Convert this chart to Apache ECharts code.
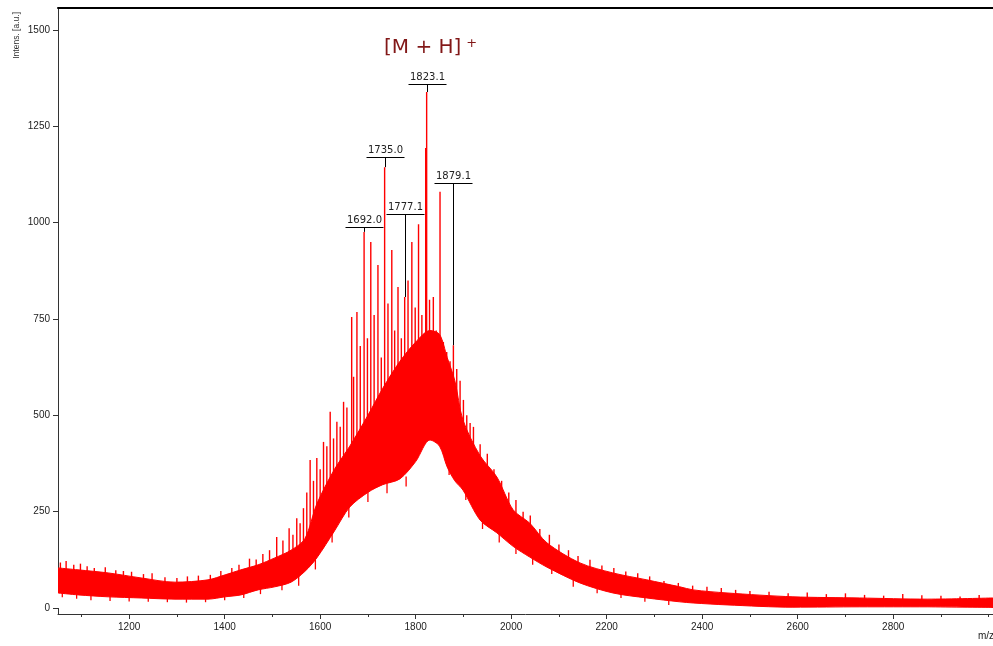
<!DOCTYPE html>
<html>
<head>
<meta charset="utf-8">
<style>
html, body { margin: 0; padding: 0; background: #fff; }
#container { width: 993px; height: 646px; }
</style>
<script src="https://cdn.jsdelivr.net/npm/echarts@6/dist/echarts.min.js"></script>
</head>
<body>
<div id="container"></div>
<script>
// noise band of the spectrum: m/z and upper / lower edge of the red band
var bandMz    = [1051, 1093, 1156, 1225, 1296, 1365, 1401, 1434, 1470, 1505, 1539, 1568, 1593, 1630, 1662, 1700, 1731, 1767, 1800, 1830, 1850, 1866, 1882, 1899, 1935, 1970, 2004, 2039, 2075, 2144, 2213, 2284, 2353, 2381, 2452, 2590, 2730, 2871, 3009];
var bandUpper = [104, 99, 91, 78, 67, 73, 86, 99, 112, 130, 150, 180, 270, 360, 420, 500, 570, 640, 690, 720, 710, 650, 590, 488, 395, 340, 255, 220, 169, 117, 91, 73, 55, 47, 39, 29, 26, 23, 26];
var bandLower = [39, 34, 29, 26, 23, 23, 29, 34, 47, 55, 67, 95, 130, 200, 262, 300, 320, 335, 380, 436, 420, 366, 330, 306, 228, 195, 160, 132, 106, 65, 39, 26, 16, 13, 8, 2, 3, 3, 2];

// individual peaks sticking out of the top of the band
var spikeMz  = [1056, 1068, 1084, 1098, 1112, 1127, 1150, 1172, 1188, 1205, 1230, 1248, 1275, 1300, 1322, 1345, 1370, 1392, 1415, 1430, 1452, 1466, 1480, 1494,
                1509, 1522, 1535, 1543, 1551, 1558, 1565, 1572, 1579, 1586, 1593, 1600, 1607, 1614, 1621, 1628, 1635, 1642, 1649, 1656, 1666, 1670, 1677, 1684,
                1692, 1699, 1706, 1713, 1721, 1728, 1735, 1742, 1750, 1756, 1763, 1770, 1777,
                1784, 1792, 1799, 1806, 1813, 1821, 1823, 1829, 1837, 1843, 1851, 1858, 1865,
                1872, 1879, 1886, 1893, 1900, 1907, 1914, 1921, 1935, 1950, 1964, 1980, 1995,
                2010, 2025, 2040, 2060, 2080, 2100, 2120, 2140, 2165, 2190, 2215, 2240, 2265, 2290, 2320, 2350, 2380,
                2410, 2440, 2470, 2500, 2540, 2580, 2620, 2660, 2700, 2740, 2780, 2820, 2860, 2900, 2940, 2980];
var spikeTop = [118, 122, 112, 115, 108, 104, 106, 98, 96, 94, 88, 90, 80, 78, 82, 84, 86, 96, 104, 112, 128, 126, 140, 150,
                184, 175, 207, 190, 233, 220, 259, 300, 384, 330, 389, 360, 431, 420, 509, 440, 483, 470, 535, 520, 755, 600, 768, 680,
                976, 700, 950, 760, 890, 650, 1144, 790, 929, 720, 833, 700, 807,
                850, 950, 780, 996, 760, 1194, 1339, 800, 807, 720, 1080, 690, 664,
                640, 682, 620, 590, 540, 500, 480, 470, 425, 400, 360, 330, 300,
                280, 250, 240, 205, 190, 165, 150, 135, 125, 110, 104, 95, 90, 82, 70, 65, 58,
                55, 52, 47, 44, 42, 38, 40, 36, 38, 34, 32, 36, 33, 32, 30, 34];

// noise dips reaching below the bottom of the band
var dipMz  = [1060, 1090, 1120, 1160, 1200, 1240, 1280, 1320, 1360, 1400, 1440, 1475, 1520, 1555, 1590, 1625, 1660, 1700, 1740, 1780,
              1870, 1905, 1940, 1975, 2010, 2045, 2085, 2130, 2180, 2230, 2280, 2330];
var dipLow = [28, 24, 20, 18, 17, 16, 15, 14, 15, 20, 26, 36, 46, 58, 100, 170, 235, 275, 298, 315,
              345, 280, 205, 170, 140, 112, 88, 55, 38, 26, 16, 8];

// annotated peaks
var peakMz    = [1692, 1735, 1777, 1823, 1879];
var peakTop   = [976, 1144, 807, 1339, 682];
var peakMark  = [989, 1170, 1022, 1360, 1103];
var peakText  = ['1692.0', '1735.0', '1777.1', '1823.1', '1879.1'];

var yMajor = [0, 250, 500, 750, 1000, 1250, 1500];
var yMinor = [50, 100, 150, 200, 300, 350, 400, 450, 550, 600, 650, 700, 800, 850, 900, 950,
              1050, 1100, 1150, 1200, 1300, 1350, 1400, 1450, 1550];
var xMajor = [1200, 1400, 1600, 1800, 2000, 2200, 2400, 2600, 2800];
var xMinor = [1100, 1300, 1500, 1700, 1900, 2100, 2300, 2500, 2700, 2900, 3000];

var dom = document.getElementById('container');
var myChart = echarts.init(dom);

var upperData = bandMz.map(function (m, i) { return [m, bandUpper[i]]; });
var lowerData = bandMz.map(function (m, i) { return [m, bandLower[i]]; });
var spikeData = spikeMz.map(function (m, i) { return [m, spikeTop[i]]; });
var dipData = dipMz.map(function (m, i) { return [m, dipLow[i]]; });
var peakData = peakMz.map(function (m, i) { return [m, peakTop[i], peakMark[i]]; });

var axisColor = '#333';
var labelFont = 'Liberation Sans, Arial, sans-serif';
var plain = function (v) { return String(v); };

var option = {
    animation: false,
    backgroundColor: '#fff',
    title: {
        text: '{a|[M + H]} {b|+}',
        left: 379,
        top: 32,
        textStyle: {
            rich: {
                a: { fontSize: 20, fontWeight: 'normal', color: '#821818', fontFamily: 'DejaVu Sans' },
                b: { fontSize: 13, fontWeight: 'normal', color: '#821818', fontFamily: 'DejaVu Sans', verticalAlign: 'top', padding: [0, 0, 8, 0] }
            }
        }
    },
    graphic: [
        {
            type: 'text',
            x: 17, y: 12,
            rotation: Math.PI / 2,
            style: { text: 'Intens. [a.u.]', font: '8.5px Liberation Sans, Arial', fill: '#333', align: 'right', verticalAlign: 'middle' }
        },
        {
            type: 'text',
            x: 978, y: 636,
            style: { text: 'm/z', font: '10px Liberation Sans, Arial', fill: '#222', align: 'left', verticalAlign: 'middle' }
        }
    ],
    grid: { left: 58, right: 0, top: 8, bottom: 32 },
    xAxis: [
        {
            type: 'value', min: 1051, max: 3009, position: 'bottom',
            axisLine: { onZero: false, lineStyle: { color: axisColor, width: 1 } },
            axisTick: { customValues: xMajor, length: 5, lineStyle: { color: axisColor } },
            axisLabel: { customValues: xMajor, formatter: plain, margin: 8, color: '#222', fontSize: 10, fontFamily: labelFont },
            splitLine: { show: false }
        },
        {
            type: 'value', min: 1051, max: 3009, position: 'bottom',
            axisLine: { show: false, onZero: false },
            axisTick: { customValues: xMinor, length: 3, lineStyle: { color: axisColor } },
            axisLabel: { show: false },
            splitLine: { show: false }
        },
        {
            type: 'value', min: 1051, max: 3009, position: 'top',
            axisLine: { onZero: false, lineStyle: { color: '#000', width: 2 } },
            axisTick: { show: false },
            axisLabel: { show: false },
            splitLine: { show: false }
        }
    ],
    yAxis: [
        {
            type: 'value', min: -15.6, max: 1557,
            axisLine: { show: true, onZero: false, lineStyle: { color: axisColor, width: 1 } },
            axisTick: { customValues: yMajor, length: 5, lineStyle: { color: axisColor } },
            axisLabel: { customValues: yMajor, formatter: plain, margin: 8, color: '#222', fontSize: 10, fontFamily: labelFont },
            splitLine: { show: false }
        },
        {
            type: 'value', min: -15.6, max: 1557,
            axisLine: { show: false, onZero: false },
            axisTick: { customValues: yMinor, length: 3, lineStyle: { color: axisColor } },
            axisLabel: { show: false },
            splitLine: { show: false }
        }
    ],
    series: [
        {
            name: 'spikes',
            type: 'bar',
            z: 1,
            barWidth: 1.4,
            itemStyle: { color: '#ff0000' },
            data: spikeData
        },
        {
            name: 'upper',
            type: 'line',
            z: 2,
            showSymbol: false,
            smooth: 0.3,
            lineStyle: { color: '#ff0000', width: 1 },
            areaStyle: { color: '#ff0000', opacity: 1 },
            data: upperData
        },
        {
            name: 'lower',
            type: 'line',
            z: 3,
            showSymbol: false,
            smooth: 0.3,
            lineStyle: { color: '#ff0000', width: 1 },
            areaStyle: { color: '#ffffff', opacity: 1 },
            data: lowerData
        },
        {
            name: 'dips',
            type: 'custom',
            z: 4,
            encode: { x: 0, y: 1 },
            renderItem: function (params, api) {
                var p = api.coord([api.value(0), api.value(1)]);
                return {
                    type: 'line',
                    shape: { x1: p[0], y1: p[1], x2: p[0], y2: p[1] - 10 },
                    style: { stroke: '#ff0000', lineWidth: 1.3 }
                };
            },
            data: dipData
        },
        {
            name: 'peaks',
            type: 'custom',
            z: 5,
            encode: { x: 0, y: 1 },
            renderItem: function (params, api) {
                var i = params.dataIndex;
                var tip = api.coord([api.value(0), api.value(1)]);
                var mark = api.coord([api.value(0), api.value(2)]);
                var cx = Math.round(mark[0]) + 0.5;
                var my = Math.round(mark[1]) + 0.5;
                return {
                    type: 'group',
                    children: [
                        { type: 'line', shape: { x1: cx - 19, y1: my, x2: cx + 19, y2: my }, style: { stroke: '#000', lineWidth: 1 } },
                        { type: 'line', shape: { x1: cx, y1: my, x2: cx, y2: tip[1] }, style: { stroke: '#000', lineWidth: 1 } },
                        { type: 'text', x: cx, y: my - 2, style: { text: peakText[i], align: 'center', verticalAlign: 'bottom', font: '10px DejaVu Sans', fill: '#222' } }
                    ]
                };
            },
            data: peakData
        }
    ]
};

if (option && typeof option === 'object') {
    myChart.setOption(option, true);
}
</script>
</body>
</html>
